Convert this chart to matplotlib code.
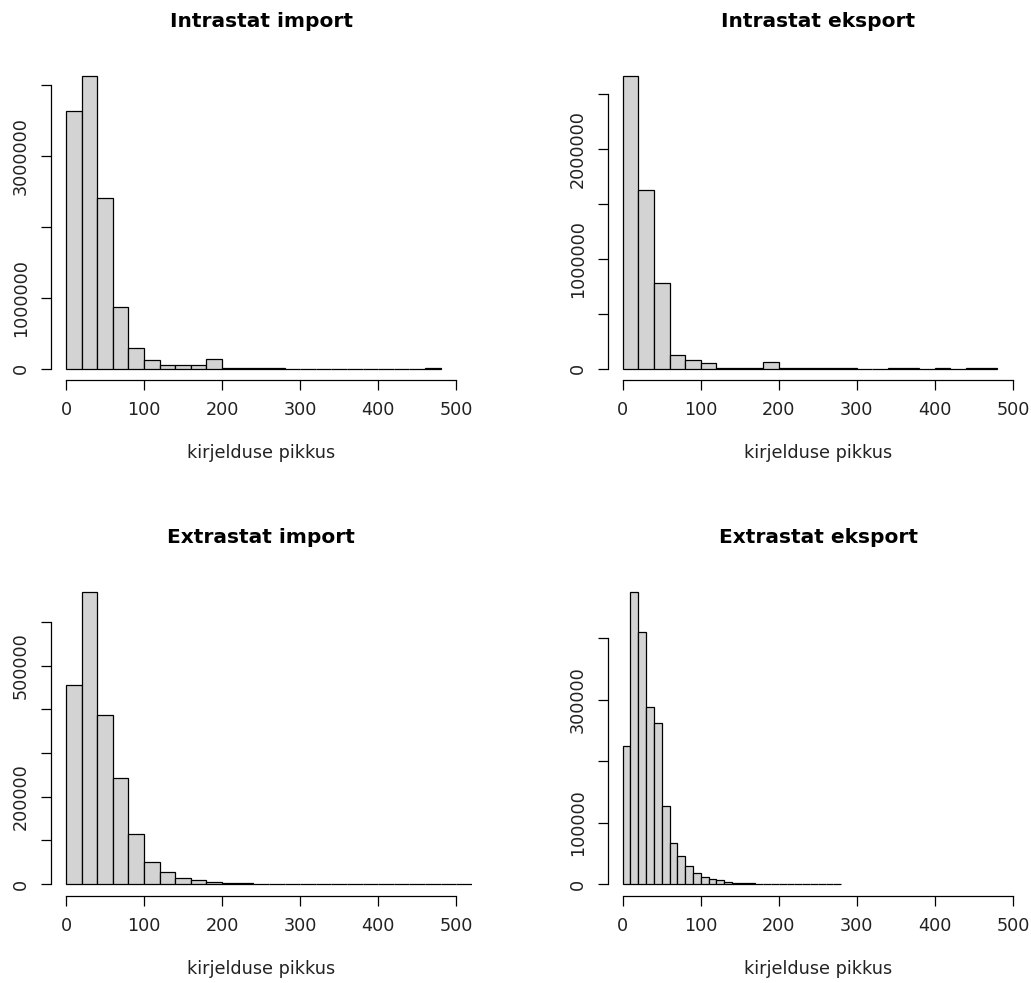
import matplotlib
matplotlib.use("Agg")
import matplotlib.pyplot as plt
import numpy as np

# Counts per bin
INTRA_IMPORT = [3640000, 4120000, 2400000, 870000, 286000, 117000, 56000, 56000,
                56000, 141000, 8000, 5000, 5000, 6000, 0, 0, 0, 0, 0, 0, 0, 0, 0, 8000]
INTRA_EKSPORT = [2660000, 1627000, 776000, 124000, 76000, 51000, 10000, 10000,
                 10000, 60000, 3000, 3000, 3000, 3000, 3000, 0, 0, 3000, 3000,
                 0, 3000, 0, 3000, 3000]
EXTRA_IMPORT = [456000, 669000, 388000, 242000, 115500, 51000, 27500, 14500, 8500,
                5300, 2500, 1500, 900, 800, 700, 600, 600, 500, 500, 500, 400,
                400, 400, 400, 400, 400]
EXTRA_EKSPORT = [224000, 475000, 409000, 288000, 261000, 127000, 66900, 45700,
                 29900, 18500, 11400, 8700, 6000, 3800, 2000, 1500, 1000, 800,
                 600, 500, 400, 400, 300, 800, 300, 300, 200, 200]

BIN_WIDTHS = [20, 20, 20, 10]
TITLES = ["Intrastat import", "Intrastat eksport", "Extrastat import", "Extrastat eksport"]
XLABEL = "kirjelduse pikkus"
X_TICKS = [0, 100, 200, 300, 400, 500]

Y_TICKS = [
    [0, 1000000, 2000000, 3000000, 4000000],
    [0, 500000, 1000000, 1500000, 2000000, 2500000],
    [0, 100000, 200000, 300000, 400000, 500000, 600000],
    [0, 100000, 200000, 300000, 400000],
]
# R drops labels that would overlap
Y_LABELS = [
    ["0", "1000000", "", "3000000", ""],
    ["0", "", "1000000", "", "2000000", ""],
    ["0", "", "200000", "", "", "500000", ""],
    ["0", "100000", "", "300000", ""],
]

W, H = 1031, 983
fig = plt.figure(figsize=(W / 100, H / 100), dpi=100)
fig.patch.set_facecolor("white")

# axes boxes in pixels (left, bottom) -- R plot regions
AX_W = 420.8
LEFTS = [51, 607.7, 51, 607.7]
BOTTOMS = [380.3, 380.3, 895.7, 895.7]
BOX_H = 315.5

series = [INTRA_IMPORT, INTRA_EKSPORT, EXTRA_IMPORT, EXTRA_EKSPORT]
for i, counts in enumerate(series):
    ax = fig.add_axes([LEFTS[i] / W, 1 - BOTTOMS[i] / H, AX_W / W, BOX_H / H])
    bw = BIN_WIDTHS[i]
    edges = np.arange(len(counts) + 1) * bw
    ax.bar(edges[:-1], counts, width=bw, align="edge", color="#D3D3D3",
           edgecolor="black", linewidth=0.9)
    ymax = max(counts)
    ax.set_ylim(-0.04 * ymax, 1.04 * ymax)
    ax.set_xlim(-19.2, 520)

    for s in ["top", "right"]:
        ax.spines[s].set_visible(False)
    ax.spines["left"].set_bounds(Y_TICKS[i][0], Y_TICKS[i][-1])
    ax.spines["bottom"].set_bounds(X_TICKS[0], X_TICKS[-1])
    for s in ["left", "bottom"]:
        ax.spines[s].set_linewidth(0.9)

    ax.set_xticks(X_TICKS)
    ax.set_xticklabels([str(t) for t in X_TICKS])
    ax.set_yticks(Y_TICKS[i])
    ax.set_yticklabels(Y_LABELS[i], rotation=90, va="center")
    ax.tick_params(direction="out", length=7, width=0.9, labelsize=12.7,
                   pad=8, colors="black", labelcolor="#222222")

    ax.set_title(TITLES[i], fontsize=14.5, fontweight="bold", pad=27)
    ax.set_xlabel(XLABEL, fontsize=12.7, labelpad=18, color="#222222")

fig.savefig("out.png", dpi=100, facecolor="white")
